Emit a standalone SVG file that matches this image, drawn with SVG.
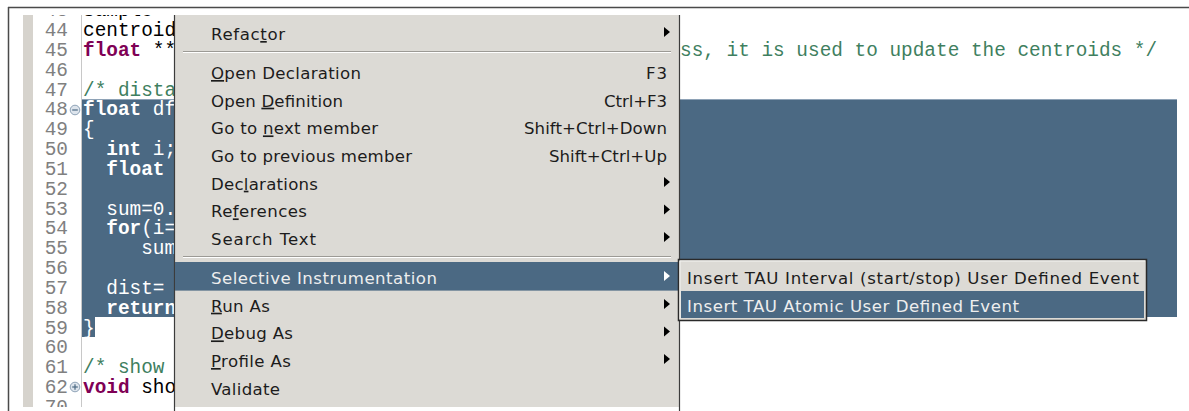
<svg xmlns="http://www.w3.org/2000/svg" width="1189" height="411" viewBox="0 0 1189 411">
  <style>
    .code { font-family: "Liberation Mono", "DejaVu Sans Mono", monospace; font-size: 19.4px; fill: #000; }
    .kw { font-weight: bold; fill: #7f0055; }
    .cm { fill: #3f7f5f; }
    .sel { fill: #ffffff; }
    .sel .kw { fill: #ffffff; }
    .ln { font-family: "Liberation Mono", "DejaVu Sans Mono", monospace; font-size: 19.4px; fill: #808080; text-anchor: end; }
    .mi { font-family: "DejaVu Sans", "Liberation Sans", sans-serif; font-size: 16.6px; fill: #1c1c1c; }
    .mi.hi { fill: #eeeeee; }
    .key { text-anchor: end; }
    .u { text-decoration: underline; }
    .arrow { fill: #000; }
    .arrow.hi { fill: #ffffff; }
    .sep1 { stroke: #9c9a95; stroke-width: 1; }
    .sep2 { stroke: #ffffff; stroke-width: 1; }
  </style>
  <defs>
    <clipPath id="editorClip">
      <rect x="8" y="15" width="1181" height="392"/>
    </clipPath>
    <path id="subArrow" d="M0,-5 L6,0 L0,5 Z"/>
  </defs>

  <!-- page background and outer frame -->
  <rect x="0" y="0" width="1189" height="411" fill="#ffffff"/>
  <line x1="8" y1="7.5" x2="1189" y2="7.5" stroke="#4a4a4a" stroke-width="1.5"/>
  <line x1="8.5" y1="7" x2="8.5" y2="411" stroke="#4a4a4a" stroke-width="1.5"/>

  <!-- editor -->
  <g id="editor" clip-path="url(#editorClip)">
    <!-- annotation ruler and line-number column -->
    <rect x="23" y="15" width="10" height="392" fill="#d6d3cd"/>
    <line x1="81.5" y1="15" x2="81.5" y2="407" stroke="#c8c8c8" stroke-width="1"/>

    <!-- selected block (lines 48-59) -->
    <rect x="82" y="99" width="1095" height="218" fill="#4b6983"/>
    <line x1="82" y1="99.5" x2="1177" y2="99.5" stroke="#8ea2b6" stroke-width="1"/>
    <rect x="82" y="317" width="13" height="20" fill="#4b6983"/>

    <!-- line numbers -->
    <g id="line-numbers">
      <text class="ln" x="68" y="16.1">43</text>
      <text class="ln" x="68" y="35.9">44</text>
      <text class="ln" x="68" y="55.8">45</text>
      <text class="ln" x="68" y="75.6">46</text>
      <text class="ln" x="68" y="95.5">47</text>
      <text class="ln" x="68" y="115.3">48</text>
      <text class="ln" x="68" y="135.1">49</text>
      <text class="ln" x="68" y="155">50</text>
      <text class="ln" x="68" y="174.8">51</text>
      <text class="ln" x="68" y="194.6">52</text>
      <text class="ln" x="68" y="214.5">53</text>
      <text class="ln" x="68" y="234.3">54</text>
      <text class="ln" x="68" y="254.2">55</text>
      <text class="ln" x="68" y="274">56</text>
      <text class="ln" x="68" y="293.9">57</text>
      <text class="ln" x="68" y="313.7">58</text>
      <text class="ln" x="68" y="333.5">59</text>
      <text class="ln" x="68" y="353.4">60</text>
      <text class="ln" x="68" y="373.2">61</text>
      <text class="ln" x="68" y="393.1">62</text>
      <text class="ln" x="68" y="412.9">70</text>
    </g>

    <!-- folding markers -->
    <g id="fold-48">
      <circle cx="75" cy="110" r="4.8" fill="#dde4ec" stroke="#8fa3b7" stroke-width="1"/>
      <line x1="72.2" y1="110" x2="77.8" y2="110" stroke="#4b6983" stroke-width="1.2"/>
    </g>
    <g id="fold-62">
      <circle cx="75" cy="387" r="4.8" fill="#dde4ec" stroke="#8fa3b7" stroke-width="1"/>
      <line x1="72.2" y1="387" x2="77.8" y2="387" stroke="#4b6983" stroke-width="1.2"/>
      <line x1="75" y1="384.2" x2="75" y2="389.8" stroke="#4b6983" stroke-width="1.2"/>
    </g>

    <!-- source text -->
    <g id="source">
      <text class="code" x="83" y="16.1">Sample</text>
      <text class="code" x="83" y="35.9">centroids</text>
      <text class="code" x="83" y="55.8"><tspan class="kw">float</tspan> **</text>
      <text class="code cm" x="680" y="55.8">ss, it is used to update the centroids */</text>
      <text class="code cm" x="83" y="95.5">/* distance</text>
      <g class="sel">
        <text class="code sel" x="83" y="115.3"><tspan class="kw">float</tspan> df</text>
        <text class="code sel" x="83" y="135.1">{</text>
        <text class="code sel" x="106.3" y="155"><tspan class="kw">int</tspan> i;</text>
        <text class="code sel" x="106.3" y="174.8"><tspan class="kw">float</tspan></text>
        <text class="code sel" x="106.3" y="214.5">sum=0.</text>
        <text class="code sel" x="106.3" y="234.3"><tspan class="kw">for</tspan>(i=</text>
        <text class="code sel" x="141.2" y="254.2">sum</text>
        <text class="code sel" x="106.3" y="293.9">dist=</text>
        <text class="code sel" x="106.3" y="313.7"><tspan class="kw">return</tspan></text>
        <text class="code sel" x="83" y="333.5">}</text>
      </g>
      <text class="code cm" x="83" y="373.2">/* show</text>
      <text class="code" x="83" y="393.1"><tspan class="kw">void</tspan> sho</text>
    </g>
  </g>

  <!-- context menu -->
  <g id="context-menu">
    <rect x="174" y="15" width="506" height="392" fill="#dcdad5"/>
    <line x1="174.5" y1="15" x2="174.5" y2="411" stroke="#3c3c3c" stroke-width="1.2"/>
    <line x1="679.5" y1="15" x2="679.5" y2="411" stroke="#3c3c3c" stroke-width="1.2"/>

    <g id="item-refactor">
      <text class="mi" x="211" y="40" textLength="74" lengthAdjust="spacing">Refac<tspan class="u">t</tspan>or</text>
      <use href="#subArrow" class="arrow" x="664" y="32"/>
    </g>
    <g id="sep-1">
      <line class="sep1" x1="183" y1="51.5" x2="671" y2="51.5"/>
      <line class="sep2" x1="183" y1="52.5" x2="671" y2="52.5"/>
    </g>
    <g id="item-open-declaration">
      <text class="mi" x="211" y="79" textLength="150" lengthAdjust="spacing"><tspan class="u">O</tspan>pen Declaration</text>
      <text class="mi key" x="667" y="79" textLength="21" lengthAdjust="spacing">F3</text>
    </g>
    <g id="item-open-definition">
      <text class="mi" x="211" y="106.7" textLength="132" lengthAdjust="spacing">Open <tspan class="u">D</tspan>efinition</text>
      <text class="mi key" x="667" y="106.7" textLength="63" lengthAdjust="spacing">Ctrl+F3</text>
    </g>
    <g id="item-next-member">
      <text class="mi" x="211" y="134.4" textLength="167" lengthAdjust="spacing">Go to <tspan class="u">n</tspan>ext member</text>
      <text class="mi key" x="667" y="134.4" textLength="143" lengthAdjust="spacing">Shift+Ctrl+Down</text>
    </g>
    <g id="item-previous-member">
      <text class="mi" x="211" y="162" textLength="201" lengthAdjust="spacing">Go to previous member</text>
      <text class="mi key" x="667" y="162" textLength="118" lengthAdjust="spacing">Shift+Ctrl+Up</text>
    </g>
    <g id="item-declarations">
      <text class="mi" x="211" y="189.7" textLength="107" lengthAdjust="spacing">Dec<tspan class="u">l</tspan>arations</text>
      <use href="#subArrow" class="arrow" x="664" y="182"/>
    </g>
    <g id="item-references">
      <text class="mi" x="211" y="217.4" textLength="96" lengthAdjust="spacing">Re<tspan class="u">f</tspan>erences</text>
      <use href="#subArrow" class="arrow" x="664" y="209.5"/>
    </g>
    <g id="item-search-text">
      <text class="mi" x="211" y="245" textLength="105" lengthAdjust="spacing">Search Text</text>
      <use href="#subArrow" class="arrow" x="664" y="237"/>
    </g>
    <g id="sep-2">
      <line class="sep1" x1="183" y1="256.5" x2="671" y2="256.5"/>
      <line class="sep2" x1="183" y1="257.5" x2="671" y2="257.5"/>
    </g>
    <g id="item-selective-instrumentation">
      <rect x="175" y="262" width="504" height="28.6" fill="#4b6983"/>
      <text class="mi hi" x="211" y="284" textLength="226" lengthAdjust="spacing">Selective Instrumentation</text>
      <use href="#subArrow" class="arrow hi" x="664" y="276"/>
    </g>
    <g id="item-run-as">
      <text class="mi" x="211" y="311.7" textLength="59" lengthAdjust="spacing"><tspan class="u">R</tspan>un As</text>
      <use href="#subArrow" class="arrow" x="664" y="304"/>
    </g>
    <g id="item-debug-as">
      <text class="mi" x="211" y="339.4" textLength="82" lengthAdjust="spacing"><tspan class="u">D</tspan>ebug As</text>
      <use href="#subArrow" class="arrow" x="664" y="331.5"/>
    </g>
    <g id="item-profile-as">
      <text class="mi" x="211" y="367" textLength="80" lengthAdjust="spacing"><tspan class="u">P</tspan>rofile As</text>
      <use href="#subArrow" class="arrow" x="664" y="359"/>
    </g>
    <g id="item-validate">
      <text class="mi" x="211" y="394.7" textLength="69" lengthAdjust="spacing">Validate</text>
    </g>
  </g>

  <!-- Selective Instrumentation submenu -->
  <g id="submenu">
    <rect x="678.5" y="259.5" width="468" height="61" fill="#dcdad5" stroke="#2a2a2a" stroke-width="1.5"/>
    <line x1="680" y1="261" x2="1145" y2="261" stroke="#f4f4f2" stroke-width="1"/>
    <line x1="680" y1="261" x2="680" y2="319" stroke="#f4f4f2" stroke-width="1"/>
    <g id="item-insert-interval">
      <text class="mi" x="687" y="284" textLength="452" lengthAdjust="spacing">Insert TAU Interval (start/stop) User Defined Event</text>
    </g>
    <g id="item-insert-atomic">
      <rect x="681" y="291" width="463" height="27" fill="#4b6983"/>
      <text class="mi hi" x="687" y="311.7" textLength="332" lengthAdjust="spacing">Insert TAU Atomic User Defined Event</text>
    </g>
  </g>
</svg>
